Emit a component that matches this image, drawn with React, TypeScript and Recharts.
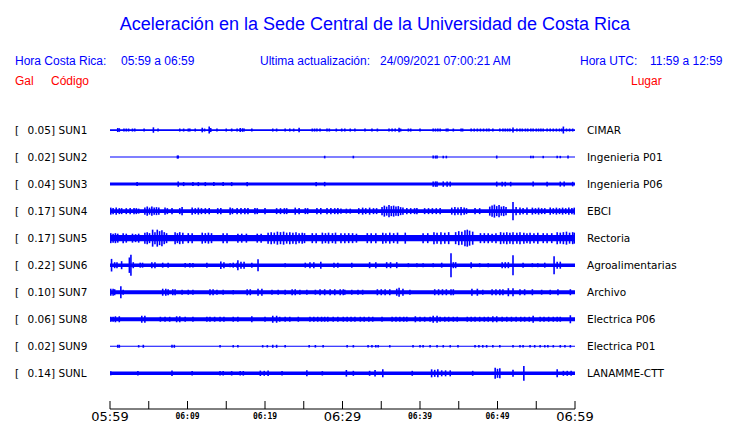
import { ComposedChart, Area, Scatter, ErrorBar, XAxis, YAxis } from 'recharts';

type Spike = [number, number]; // [minutes after 05:59, half amplitude]

const BLUE = '#0000ff';
const RED = '#ff0000';
const TRACE_STEP = 27;

const codes = ['SUN1', 'SUN2', 'SUN3', 'SUN4', 'SUN5', 'SUN6', 'SUN7', 'SUN8', 'SUN9', 'SUNL'];
const galPeaks = ['0.05', '0.02', '0.04', '0.17', '0.17', '0.22', '0.10', '0.06', '0.02', '0.14'];
const places = [
  'CIMAR',
  'Ingenieria P01',
  'Ingenieria P06',
  'EBCI',
  'Rectoria',
  'Agroalimentarias',
  'Archivo',
  'Electrica P06',
  'Electrica P01',
  'LANAMME-CTT',
];
// half width of the continuous noise band of each trace
const noiseFloor = [0.9, 0.5, 1.5, 1.8, 3.2, 1.8, 2, 2, 0.5, 1.7];

const minuteTicks = [0, 5, 10, 15, 20, 25, 30, 35, 40, 45, 50, 55, 60];
const timeLabels: Record<number, string> = {
  0: '05:59',
  10: '06:09',
  20: '06:19',
  30: '06:29',
  40: '06:39',
  50: '06:49',
  60: '06:59',
};
const majorLabels = [0, 30, 60];

const sun1: Spike[] = [
  [1.0, 2], [1.2, 1.8], [1.8, 1.5], [2.1, 1.5], [2.4, 1.5], [2.9, 1.5], [3.2, 1.5], [4.4, 1.5],
  [5.6, 2.7], [6.2, 1.5], [9.0, 1.5], [9.5, 1.5], [10.1, 1.5], [10.3, 1.5], [11.0, 1.5],
  [11.9, 2.3], [12.2, 1.5], [12.8, 3.5], [13.0, 2], [13.8, 1.5], [15.0, 1.5], [15.7, 1.5],
  [16.4, 1.5], [16.8, 2], [17.1, 1.8], [17.3, 1.5], [18.3, 1.5], [21.0, 1.5], [21.5, 1.5],
  [22.6, 1.5], [23.2, 1.5], [23.7, 1.5], [24.4, 2.3], [26.1, 1.5], [26.4, 1.5], [26.7, 1.5],
  [27.1, 1.5], [28.0, 1.5], [28.3, 1.5], [29.2, 1.5], [29.9, 1.5], [30.3, 1.5], [31.0, 1.5],
  [31.6, 1.5], [32.9, 1.5], [33.8, 1.5], [34.5, 1.5], [36.0, 1.5], [36.4, 1.5], [36.8, 1.5],
  [37.3, 2.3], [37.5, 1.5], [38.5, 1.5], [38.8, 1.5], [40.0, 1.5], [41.7, 1.5], [42.0, 1.5],
  [42.3, 1.5], [42.6, 1.5], [43.4, 1.5], [43.6, 1.5], [44.3, 1.5], [45.3, 1.5], [45.5, 1.5],
  [46.6, 1.5], [47.0, 1.5], [47.4, 1.5], [47.8, 1.5], [48.2, 1.5], [48.6, 1.5], [48.9, 1.5],
  [49.4, 1.5], [50.3, 1.5], [50.7, 1.5], [51.0, 1.5], [51.3, 1.5], [51.6, 1.5], [52.0, 2.5],
  [52.5, 1.5], [52.9, 1.5], [53.2, 1.5], [53.6, 1.5], [53.9, 1.5], [54.3, 1.5], [54.6, 1.5],
  [55.0, 1.5], [55.3, 1.5], [55.6, 1.5], [55.9, 1.5], [56.4, 1.5], [56.8, 1.5], [57.2, 1.5],
  [57.6, 1.5], [58.0, 1.5], [58.3, 1.5], [58.5, 3.5], [58.9, 1.5], [59.3, 1.5], [59.7, 1.5],
];

const sun2: Spike[] = [
  [8.7, 1.5], [8.8, 1.5], [27.7, 1.3], [31.4, 1.3], [41.7, 1.5], [42.0, 1.5], [42.2, 1.5],
  [43.0, 1.3], [43.4, 1.3], [49.9, 1.5], [54.3, 1.3], [54.6, 1.3], [55.9, 1.2], [57.7, 1.2],
  [58.1, 1.2], [59.1, 1.5],
];

const sun3: Spike[] = [
  [3.5, 2], [8.8, 2.7], [9.5, 2], [10.7, 2], [11.4, 2], [12.3, 2], [13.4, 2], [14.6, 2],
  [15.7, 2], [17.7, 2.2], [26.6, 2.2], [27.7, 2.2], [41.7, 2.7], [42.0, 2.7], [42.2, 2.7],
  [43.0, 2.7], [43.5, 2.7], [43.9, 2.5], [49.9, 2.5], [50.6, 2.3], [51.0, 2.3], [51.7, 2.3],
  [54.6, 2.5], [56.4, 2.3], [58.1, 2.5], [58.6, 2.5], [59.7, 2.3],
];

const sun4: Spike[] = [
  [0.1, 3.5], [0.4, 3], [0.8, 3.5], [1.2, 3], [1.5, 3], [2.1, 3], [2.6, 3], [3.1, 3], [3.4, 3],
  [3.7, 2.5], [4.5, 3.5], [4.8, 4.5], [5.1, 3.5], [5.4, 4.5], [5.7, 3.5], [6.0, 4], [6.3, 3.5],
  [7.1, 3.5], [7.4, 3], [8.0, 3], [9.0, 3], [9.3, 4], [10.6, 3.5], [11.0, 3], [11.4, 3.5],
  [11.8, 3], [12.3, 3], [12.8, 3], [13.9, 3], [14.3, 3], [15.5, 3.5], [15.8, 3], [16.4, 3],
  [16.9, 3], [17.4, 3], [17.8, 3], [18.7, 3], [19.0, 3], [20.0, 3], [21.5, 3], [22.0, 3],
  [22.5, 3], [22.8, 3], [23.9, 3.5], [24.4, 3], [25.2, 3], [25.5, 3], [26.7, 3], [27.2, 3],
  [28.0, 3], [28.5, 3], [29.0, 3], [29.4, 3], [29.8, 2.5], [30.5, 2.5], [31.0, 2.5], [32.1, 3],
  [32.6, 3.5], [33.0, 3], [33.5, 3.5], [34.0, 3], [34.4, 3], [35.1, 4], [35.4, 5.5], [35.7, 4.5],
  [36.0, 6], [36.3, 5], [36.6, 5.5], [36.9, 4.5], [37.2, 5], [37.5, 4], [37.8, 3.5], [38.3, 3],
  [38.8, 3], [39.3, 3], [39.6, 3], [40.6, 3], [41.1, 3], [41.6, 3], [42.1, 3], [42.6, 3],
  [44.1, 3.5], [44.5, 4], [44.9, 3.5], [45.3, 4], [45.7, 3.5], [46.0, 3], [47.1, 3], [47.7, 3],
  [49.0, 4.5], [49.3, 5.5], [49.6, 6.5], [49.9, 5], [50.2, 6], [50.5, 4.5], [50.8, 5], [51.1, 4],
  [52.0, 9], [52.4, 4], [52.9, 3.5], [53.3, 3], [53.8, 3.5], [54.5, 3.5], [54.9, 3], [55.3, 3.5],
  [55.7, 3], [56.1, 3], [56.8, 3.5], [57.2, 3], [57.6, 3.5], [58.0, 3], [58.4, 3.5], [58.8, 3],
  [59.2, 3.5], [59.6, 3], [59.9, 3.5],
];

const sun5: Spike[] = [
  [0.1, 5], [0.4, 4.5], [0.7, 5], [1.0, 4.5], [1.7, 5], [2.1, 4.5], [2.9, 4.5], [3.3, 4],
  [3.7, 4.5], [4.5, 5.5], [4.8, 6], [5.1, 5], [5.5, 8.5], [5.8, 6], [6.1, 8.5], [6.4, 7],
  [6.7, 8], [7.0, 6], [7.3, 5], [8.4, 6], [8.7, 5], [9.0, 6], [9.4, 5.5], [10.1, 5], [10.6, 5],
  [11.9, 5.5], [12.3, 5], [12.7, 5.5], [13.1, 5], [14.6, 5], [15.1, 5], [16.5, 4.5], [17.0, 4.5],
  [17.6, 4.5], [19.0, 4.5], [19.5, 4.5], [20.4, 5.5], [20.8, 6], [21.2, 5.5], [21.6, 6.5],
  [22.0, 6], [22.4, 6.5], [22.8, 5.5], [23.2, 6], [23.6, 5.5], [24.0, 6], [24.4, 5], [24.8, 5.5],
  [25.1, 5], [26.1, 5], [26.6, 5], [27.4, 5.5], [27.8, 5], [28.2, 5.5], [28.7, 5], [29.1, 5.5],
  [29.8, 5], [30.3, 5], [30.8, 5], [31.3, 5], [31.8, 4.5], [33.2, 5], [33.7, 5], [34.3, 5],
  [35.2, 5.5], [35.6, 5], [36.1, 5.5], [36.6, 5], [37.1, 5.5], [38.1, 5.5], [40.4, 5], [41.0, 5],
  [41.8, 6], [42.2, 5.5], [42.7, 6], [43.2, 5.5], [43.7, 6], [44.6, 6], [45.0, 7], [45.4, 6.5],
  [45.8, 8], [46.1, 8.5], [46.4, 7.5], [46.8, 6.5], [47.8, 5], [48.3, 5], [48.8, 5], [49.3, 4.5],
  [49.8, 5], [50.4, 6], [50.8, 5.5], [51.2, 6], [51.6, 5.5], [52.0, 6], [52.5, 5.5], [52.9, 6],
  [53.4, 5.5], [53.8, 5], [54.2, 5.5], [54.7, 5], [55.2, 5.5], [55.9, 5], [56.4, 5], [57.0, 5],
  [57.7, 6], [58.1, 5.5], [58.5, 6], [58.9, 6.5], [59.3, 5.5], [59.7, 6], [59.9, 5.5],
];

const sun6: Spike[] = [
  [0.2, 6.3], [0.6, 3], [0.9, 3], [1.5, 4], [2.5, 7.7], [2.7, 10.5], [3.0, 3], [3.9, 2.5],
  [4.2, 2.5], [5.4, 3], [5.8, 3], [6.8, 2.5], [7.5, 2.5], [9.7, 2.3], [10.3, 2.3], [10.7, 2.3],
  [12.5, 2.5], [14.3, 3.7], [14.7, 3], [15.5, 2], [15.9, 2.5], [16.4, 2.5], [16.5, 5], [16.9, 3.5],
  [17.3, 3.5], [18.3, 2.5], [19.1, 6], [22.6, 2], [25.2, 2.5], [25.8, 3], [26.3, 3], [27.2, 3.5],
  [28.9, 2.5], [29.4, 2.5], [31.2, 2.5], [33.5, 3], [34.3, 3], [35.7, 3], [36.2, 3], [37.0, 3],
  [38.5, 2], [39.6, 2], [40.4, 2], [41.7, 2], [42.8, 2.5], [44.0, 12], [44.3, 3], [44.6, 3],
  [46.6, 3], [47.7, 2], [48.8, 2], [50.6, 3], [51.0, 3], [51.4, 3], [52.0, 10], [53.3, 2.5],
  [54.5, 2], [55.2, 2], [56.1, 2.5], [57.3, 9], [57.7, 3.5], [58.1, 3.5],
];

const sun7: Spike[] = [
  [0.1, 3.5], [0.4, 3.5], [0.6, 3], [1.4, 6], [1.7, 2.5], [6.8, 3.5], [7.2, 3.5], [7.5, 3],
  [8.1, 3], [8.4, 3], [9.3, 2.5], [10.1, 2.5], [10.7, 2.5], [12.9, 3], [13.3, 3], [13.8, 2.5],
  [14.6, 2.5], [15.9, 2.2], [17.7, 3], [18.1, 3], [19.1, 3.5], [19.6, 3.5], [20.9, 2.5],
  [21.7, 2.5], [22.6, 2.5], [23.5, 3], [23.9, 3], [24.5, 2.5], [25.4, 2.5], [26.5, 2.5],
  [27.1, 3], [27.7, 3], [28.4, 3], [29.0, 3], [29.7, 3], [30.1, 3], [30.3, 2.5], [31.2, 2.5],
  [32.0, 2.5], [32.6, 2.5], [34.5, 3], [35.0, 3], [35.5, 3], [36.1, 3], [37.0, 3.5], [37.3, 4.5],
  [37.8, 3.5], [38.7, 2.5], [41.9, 3], [42.4, 3], [42.9, 3], [43.4, 3], [44.0, 3], [44.3, 3],
  [46.7, 3.5], [47.4, 3.5], [48.1, 2.5], [49.3, 3], [49.8, 3], [50.3, 3], [50.7, 3], [51.4, 4],
  [52.0, 4], [52.9, 3], [53.5, 3], [54.5, 3], [55.7, 2.5], [56.8, 2.5], [57.8, 3], [59.4, 3],
];

const sun8: Spike[] = [
  [0.1, 2.5], [0.4, 2.5], [0.7, 3], [1.2, 3], [4.1, 3.5], [4.5, 3.5], [6.5, 2.5], [7.1, 2.5],
  [7.7, 2.5], [8.6, 3], [9.0, 3], [9.7, 2.5], [10.7, 2.5], [12.5, 2.5], [12.9, 2.5], [13.5, 2.5],
  [14.2, 2.5], [14.7, 2.5], [15.9, 2.5], [16.5, 2.5], [18.3, 3], [20.0, 2.5], [21.0, 3.5],
  [21.5, 3.5], [21.9, 2.5], [22.6, 2.5], [23.2, 2.5], [24.3, 2.5], [25.8, 2.5], [26.3, 2.5],
  [26.8, 2.5], [27.3, 2.5], [27.7, 2.5], [28.1, 2.5], [28.8, 2.5], [29.4, 2.5], [30.1, 2.5],
  [30.6, 2.5], [31.1, 2.5], [31.6, 2.5], [32.3, 2.5], [32.8, 2.5], [33.4, 2.5], [33.9, 2.5],
  [35.1, 2.5], [36.4, 2.5], [36.9, 2.5], [37.4, 2.5], [37.9, 2.5], [38.3, 2.5], [39.4, 3],
  [40.0, 2.5], [40.6, 2.5], [41.3, 2.5], [41.7, 3.5], [42.2, 3.5], [42.6, 2.5], [43.2, 2.5],
  [43.7, 2.5], [44.3, 2.5], [44.8, 2.5], [46.1, 2.5], [46.6, 2.5], [47.1, 2.5], [47.7, 2.5],
  [48.3, 2.5], [48.8, 2.5], [49.4, 3], [49.9, 3], [50.6, 2.5], [51.2, 2.5], [51.8, 2.5],
  [52.4, 2.5], [53.0, 2.5], [53.5, 2.5], [54.1, 2.5], [54.6, 3.5], [55.5, 2.5], [56.0, 2.5],
  [56.6, 2.5], [57.2, 2.5], [57.7, 2.5], [58.1, 2.5], [59.4, 4],
];

const sun9: Spike[] = [
  [1.0, 1.5], [1.2, 1.5], [3.7, 1.2], [4.3, 1.5], [8.0, 1.5], [8.3, 1.5], [14.2, 1.2], [15.9, 1.2],
  [16.5, 1.2], [19.7, 1.2], [20.3, 1.2], [21.0, 1.5], [21.5, 1.5], [22.6, 1.2], [25.7, 1.2],
  [26.5, 1.3], [27.5, 1.2], [30.6, 1.2], [31.4, 1.2], [33.3, 1.3], [33.8, 1.3], [34.3, 1.3],
  [34.6, 1.3], [36.1, 1.2], [39.1, 1.2], [40.0, 1.2], [40.4, 1.2], [41.3, 1.2], [42.2, 1.2],
  [43.0, 1.2], [43.9, 1.2], [44.9, 1.2], [47.1, 1.3], [47.6, 1.3], [48.1, 1.3], [48.6, 1.3],
  [49.4, 1.2], [50.3, 1.2], [52.0, 1.2], [52.9, 1.2], [53.3, 1.2], [54.2, 1.3], [54.8, 1.3],
  [55.5, 1.3], [56.1, 1.2], [56.5, 1.2], [57.2, 1.2], [58.1, 1.3], [58.7, 1.3], [59.4, 1.3],
];

const sunL: Spike[] = [
  [0.1, 2], [3.6, 2.2], [8.0, 2.7], [10.6, 2.2], [14.2, 2.3], [14.6, 2.3], [15.7, 2.2], [16.8, 2.3],
  [17.2, 2.3], [19.4, 2.7], [19.9, 2.5], [20.4, 2.7], [22.2, 2.2], [25.4, 3], [27.4, 2.2],
  [30.5, 3.3], [31.4, 2.5], [33.5, 2.5], [34.2, 3.3], [35.2, 4], [39.0, 2.5], [41.5, 4],
  [41.9, 3.5], [42.3, 4], [42.8, 3], [43.3, 3], [43.9, 3], [46.8, 2.5], [49.7, 5.5], [50.0, 4.5],
  [50.3, 5], [52.0, 3.5], [53.4, 7.3], [57.7, 4], [58.5, 2.5], [59.0, 2.5], [59.5, 2.5],
];

const spikes = [sun1, sun2, sun3, sun4, sun5, sun6, sun7, sun8, sun9, sunL];

const traceTicks = codes.map((_, i) => i * TRACE_STEP);
const yDomain = [-TRACE_STEP, 10.32 * TRACE_STEP];

// noise band of every trace, from start to end of the hour
const bandRows = [0, 60].map((t) => {
  const row: Record<string, number | number[]> = { t };
  codes.forEach((c, i) => {
    row[c] = [i * TRACE_STEP - noiseFloor[i], i * TRACE_STEP + noiseFloor[i]];
  });
  return row;
});

const spikeRows = spikes.map((list, i) =>
  list.map(([t, amp]) => ({ t, y: i * TRACE_STEP, amp })),
);

const NoMarker = () => <g />;

function TimeTick(props: any) {
  const { x, y, payload } = props;
  const label = timeLabels[payload.value];
  const major = majorLabels.includes(payload.value);
  return (
    <g>
      <line x1={x} x2={x} y1={y} y2={y - 8} stroke="#000" />
      {label &&
        (major ? (
          <text x={x} y={y + 12} textAnchor="middle" fontSize={13} fontFamily="DejaVu Sans" fill="#000">
            {label}
          </text>
        ) : (
          <text
            x={x}
            y={y + 9.5}
            textAnchor="middle"
            fontSize={8}
            fontWeight="bold"
            fontFamily="DejaVu Sans Mono"
            fill="#000"
          >
            {label}
          </text>
        ))}
    </g>
  );
}

function StationTick(props: any) {
  const { x, y, payload } = props;
  const i = Math.round(payload.value / TRACE_STEP);
  const style = { fontSize: 10.5, fontFamily: 'DejaVu Sans', fill: '#000' };
  return (
    <g>
      <text x={x - 95} y={y + 4} {...style}>[</text>
      <text x={x - 55} y={y + 4} textAnchor="end" {...style}>{galPeaks[i]}]</text>
      <text x={x - 51.5} y={y + 4} {...style}>{codes[i]}</text>
    </g>
  );
}

function PlaceTick(props: any) {
  const { x, y, payload } = props;
  const i = Math.round(payload.value / TRACE_STEP);
  return (
    <text x={x + 12} y={y + 4} fontSize={10.5} fontFamily="DejaVu Sans" fill="#000">
      {places[i]}
    </text>
  );
}

const headFont = { fontFamily: 'Liberation Sans, Arial, sans-serif', fontSize: 12 };

export default function App() {
  return (
    <div style={{ position: 'absolute', left: 0, top: 0, width: 740, height: 423, background: '#fff' }}>
      <ComposedChart width={740} height={423} data={bandRows} margin={{ top: 103, right: 0, bottom: 0, left: 0 }}>
        <XAxis
          dataKey="t"
          type="number"
          domain={[0, 60]}
          allowDataOverflow
          ticks={minuteTicks}
          interval={0}
          height={14}
          tickSize={0}
          tickMargin={0}
          tickLine={false}
          axisLine={{ stroke: '#000' }}
          tick={(p: any) => <TimeTick {...p} />}
        />
        <YAxis
          yAxisId="left"
          type="number"
          domain={yDomain}
          allowDataOverflow
          reversed
          ticks={traceTicks}
          interval={0}
          width={110}
          tickSize={0}
          tickMargin={0}
          tickLine={false}
          axisLine={false}
          tick={(p: any) => <StationTick {...p} />}
        />
        <YAxis
          yAxisId="right"
          orientation="right"
          type="number"
          domain={yDomain}
          allowDataOverflow
          reversed
          ticks={traceTicks}
          interval={0}
          width={165}
          tickSize={0}
          tickMargin={0}
          tickLine={false}
          axisLine={false}
          tick={(p: any) => <PlaceTick {...p} />}
        />
        {codes.map((c) => (
          <Area
            key={c}
            yAxisId="right"
            dataKey={c}
            type="linear"
            stroke="none"
            fill={BLUE}
            fillOpacity={1}
            dot={false}
            activeDot={false}
            isAnimationActive={false}
          />
        ))}
        {codes.map((c, i) => (
          <Scatter
            key={c + '-spikes'}
            yAxisId="left"
            data={spikeRows[i]}
            dataKey="y"
            shape={NoMarker}
            isAnimationActive={false}
          >
            <ErrorBar dataKey="amp" direction="y" width={0} stroke={BLUE} strokeWidth={1.6} isAnimationActive={false} />
          </Scatter>
        ))}
      </ComposedChart>
      <svg width={740} height={95} style={{ position: 'absolute', left: 0, top: 0 }}>
        <text x={375} y={30} textAnchor="middle" fontFamily="Liberation Sans, Arial, sans-serif" fontSize={18} fill={BLUE}>
          Aceleración en la Sede Central de la Universidad de Costa Rica
        </text>
        <text x={15} y={65} {...headFont} fill={BLUE}>Hora Costa Rica:</text>
        <text x={121} y={65} {...headFont} fill={BLUE}>05:59 a 06:59</text>
        <text x={260} y={65} {...headFont} fill={BLUE}>Ultima actualización:</text>
        <text x={380} y={65} {...headFont} fill={BLUE}>24/09/2021 07:00:21 AM</text>
        <text x={580} y={65} {...headFont} fill={BLUE}>Hora UTC:</text>
        <text x={650} y={65} {...headFont} fill={BLUE}>11:59 a 12:59</text>
        <text x={15} y={85} {...headFont} fill={RED}>Gal</text>
        <text x={51} y={85} {...headFont} fill={RED}>Código</text>
        <text x={631} y={85} {...headFont} fill={RED}>Lugar</text>
      </svg>
    </div>
  );
}
